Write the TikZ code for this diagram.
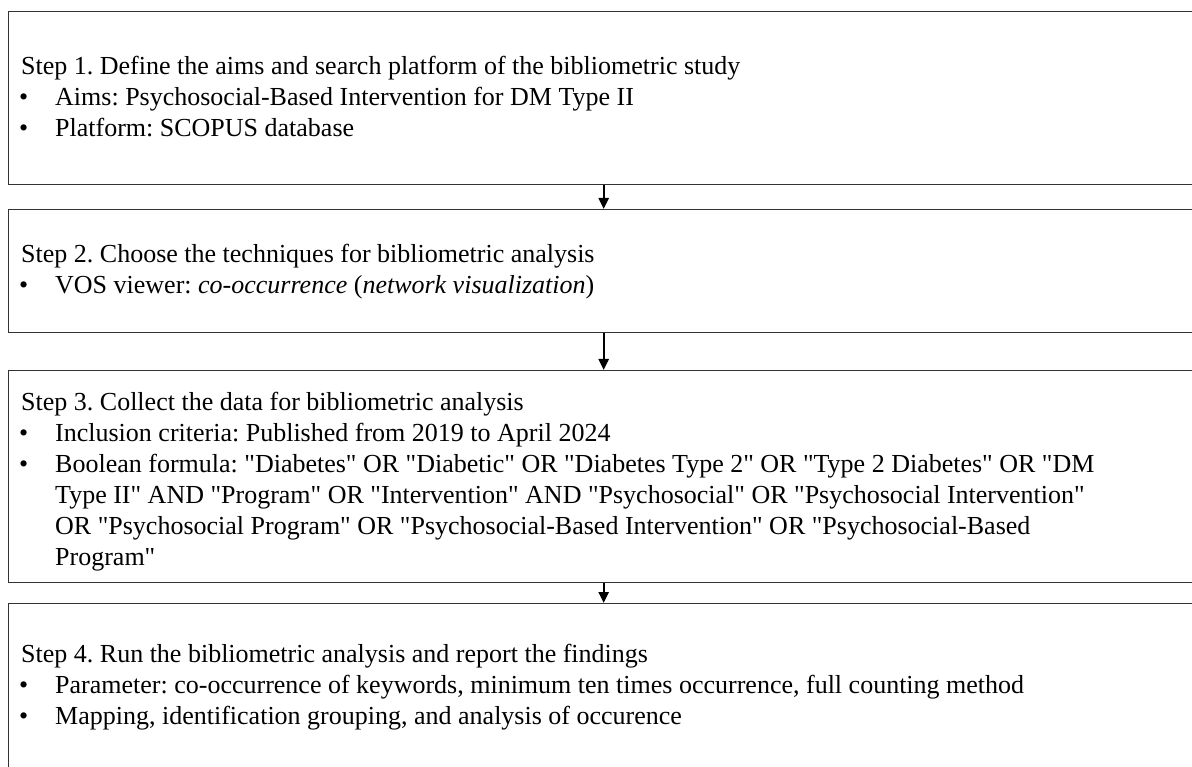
\documentclass[tikz,border=0pt]{standalone}
\usepackage{fontspec}
\setmainfont{Liberation Serif}[Ligatures=TeXOff]
\usetikzlibrary{arrows.meta}
\frenchspacing
\begin{document}
\begin{tikzpicture}[x=1pt,y=-1pt,
  stepbox/.style={draw=black!80, line width=1.4pt, anchor=north west, inner sep=0pt, minimum width=1190pt},
  txt/.style={anchor=base west, inner sep=0pt, font=\fontsize{26}{31}\selectfont},
  flow/.style={draw=black, line width=2.2pt, -{Triangle[length=11pt,width=10pt]}}]
\useasboundingbox (0,0) rectangle (1192,767);

% the four step boxes (they run past the right and bottom edges)
\node[stepbox, minimum height=173pt] (s1) at (8,11) {};
\node[stepbox, minimum height=123pt] (s2) at (8,209) {};
\node[stepbox, minimum height=212pt] (s3) at (8,370) {};
\node[stepbox, minimum height=200pt] (s4) at (8,603) {};

% connectors
\draw[flow] (s1.south) -- (s2.north);
\draw[flow] (s2.south) -- (s3.north);
\draw[flow] (s3.south) -- (s4.north);

% Step 1
\node[txt] (h1) at (21,75) {Step 1. Define the aims and search platform of the bibliometric study};
\node[txt] (d11) at (19,106) {•};
\node[txt] (a11) at (55,106) {Aims: Psychosocial-Based Intervention for DM Type II};
\node[txt] (d12) at (19,137) {•};
\node[txt] (a12) at (55,137) {Platform: SCOPUS database};

% Step 2
\node[txt] (h2) at (21,263) {Step 2. Choose the techniques for bibliometric analysis};
\node[txt] (d21) at (19,294) {•};
\node[txt] (a21) at (55,294) {VOS viewer: \textit{co-occurrence} (\textit{network visualization})};

% Step 3
\node[txt] (h3) at (21,410) {Step 3. Collect the data for bibliometric analysis};
\node[txt] (d31) at (19,441) {•};
\node[txt] (a31) at (55,441) {Inclusion criteria: Published from 2019 to April 2024};
\node[txt] (d32) at (19,472) {•};
\node[txt] (a32) at (55,472) {Boolean formula: "Diabetes" OR "Diabetic" OR "Diabetes Type 2" OR "Type 2 Diabetes" OR "DM};
\node[txt] (a33) at (55,503) {Type II" AND "Program" OR "Intervention" AND "Psychosocial" OR "Psychosocial Intervention"};
\node[txt] (a34) at (55,534) {OR "Psychosocial Program" OR "Psychosocial-Based Intervention" OR "Psychosocial-Based};
\node[txt] (a35) at (55,565) {Program"};

% Step 4
\node[txt] (h4) at (21,662) {Step 4. Run the bibliometric analysis and report the findings};
\node[txt] (d41) at (19,693) {•};
\node[txt] (a41) at (55,693) {Parameter: co-occurrence of keywords, minimum ten times occurrence, full counting method};
\node[txt] (d42) at (19,724) {•};
\node[txt] (a42) at (55,724) {Mapping, identification grouping, and analysis of occurence};
\end{tikzpicture}
\end{document}
